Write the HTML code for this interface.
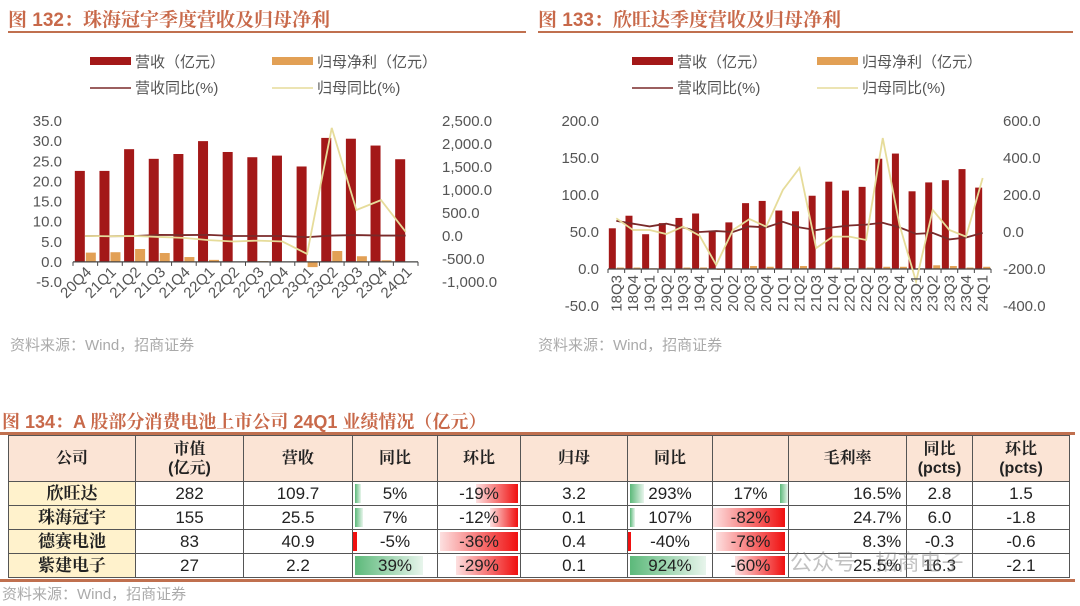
<!DOCTYPE html>
<html><head><meta charset="utf-8"><style>
body{margin:0;width:1080px;height:606px;background:#fff;overflow:hidden;position:relative;font-family:"Liberation Sans","Noto Sans CJK SC",sans-serif;}
.t{position:absolute;font-weight:bold;font-size:19px;color:#c8694a;font-family:"Liberation Sans","Noto Serif CJK SC",sans-serif;white-space:nowrap}
.src{position:absolute;font-size:15px;color:#aaa;white-space:nowrap}
table{position:absolute;left:8px;top:435px;border-collapse:collapse;font-size:17px;color:#222;table-layout:fixed}
td{border:1px solid #555;text-align:center;padding:0;position:relative;height:24px;line-height:18px;box-sizing:border-box;overflow:hidden}
td span{position:relative;z-index:2}
.h td{background:#fbe4d5;height:46px;font-weight:bold;font-family:"Liberation Sans","Noto Serif CJK SC",sans-serif;font-size:16px;line-height:19px}
.c{background:#fff2cc;font-weight:bold;font-family:"Liberation Sans","Noto Serif CJK SC",sans-serif}
.g,.r{position:absolute;top:2px;bottom:2px;z-index:1}
.g{background:linear-gradient(90deg,#5cb97a,#e8f5ec)}
.r{background:linear-gradient(90deg,#fde0e0,#f01010)}
</style></head><body>
<div class="t" style="left:8px;top:5px">图 132：珠海冠宇季度营收及归母净利</div>
<div class="t" style="left:538px;top:5px">图 133：欣旺达季度营收及归母净利</div>
<div style="position:absolute;left:8px;top:31px;width:518px;height:2px;background:#c0704f"></div>
<div style="position:absolute;left:538px;top:31px;width:535px;height:2px;background:#c0704f"></div>
<svg id="s1" width="540" height="330" style="position:absolute;left:0;top:0" font-family="Liberation Sans, Noto Sans CJK SC, sans-serif"></svg>
<svg id="s2" width="540" height="330" style="position:absolute;left:540px;top:0" font-family="Liberation Sans, Noto Sans CJK SC, sans-serif"></svg>
<div class="src" style="left:10px;top:334px">资料来源：Wind，招商证券</div>
<div class="src" style="left:538px;top:334px">资料来源：Wind，招商证券</div>
<div class="t" style="left:2px;top:408px;font-size:18px">图 134：A 股部分消费电池上市公司 24Q1 业绩情况（亿元）</div>
<div style="position:absolute;left:0;top:432px;width:1075px;height:3px;background:#c0704f"></div>
<table>
<colgroup><col style="width:127px"><col style="width:108px"><col style="width:109px"><col style="width:85px"><col style="width:83px"><col style="width:107px"><col style="width:85px"><col style="width:76px"><col style="width:118px"><col style="width:66px"><col style="width:97px"></colgroup>
<tr class="h"><td>公司</td><td>市值<br>(亿元)</td><td>营收</td><td>同比</td><td>环比</td><td>归母</td><td>同比</td><td></td><td>毛利率</td><td>同比<br>(pcts)</td><td>环比<br>(pcts)</td></tr>
<tr><td class="c">欣旺达</td><td>282</td><td>109.7</td><td><i class="g" style="left:2px;width:6px"></i><span>5%</span></td><td><i class="r" style="left:38px;right:2px"></i><span>-19%</span></td><td>3.2</td><td><i class="g" style="left:2px;width:14px"></i><span>293%</span></td><td><i class="g" style="right:0;width:8px"></i><span>17%</span></td><td style="text-align:right"><span>16.5%&nbsp;</span></td><td>2.8</td><td>1.5</td></tr>
<tr><td class="c">珠海冠宇</td><td>155</td><td>25.5</td><td><i class="g" style="left:2px;width:8px"></i><span>7%</span></td><td><i class="r" style="left:52px;right:2px"></i><span>-12%</span></td><td>0.1</td><td><i class="g" style="left:2px;width:5px"></i><span>107%</span></td><td><i class="r" style="left:0;right:3px"></i><span>-82%</span></td><td style="text-align:right"><span>24.7%&nbsp;</span></td><td>6.0</td><td>-1.8</td></tr>
<tr><td class="c">德赛电池</td><td>83</td><td>40.9</td><td><i class="r" style="left:0;width:4px;background:#f01010"></i><span>-5%</span></td><td><i class="r" style="left:2px;right:2px"></i><span>-36%</span></td><td>0.4</td><td><i class="r" style="left:0;width:3px;background:#f01010"></i><span>-40%</span></td><td><i class="r" style="left:3px;right:3px"></i><span>-78%</span></td><td style="text-align:right"><span>8.3%&nbsp;</span></td><td>-0.3</td><td>-0.6</td></tr>
<tr><td class="c">紫建电子</td><td>27</td><td>2.2</td><td><i class="g" style="left:2px;width:68px"></i><span>39%</span></td><td><i class="r" style="left:18px;right:2px"></i><span>-29%</span></td><td>0.1</td><td><i class="g" style="left:2px;width:76px"></i><span>924%</span></td><td><i class="r" style="left:22px;right:3px"></i><span>-60%</span></td><td style="text-align:right"><span>25.5%&nbsp;</span></td><td>16.3</td><td>-2.1</td></tr>
</table>
<div style="position:absolute;left:0;top:579px;width:1075px;height:3px;background:#c0704f"></div>
<div class="src" style="left:2px;top:583px">资料来源：Wind，招商证券</div>
<div style="position:absolute;left:790px;top:545px;font-size:22px;color:rgba(120,120,120,0.45);white-space:nowrap">公众号 · 招商电子</div>
<script>
// chart 132 data
const cats1=["20Q4","21Q1","21Q2","21Q3","21Q4","22Q1","22Q2","22Q3","22Q4","23Q1","23Q2","23Q3","23Q4","24Q1"];
const rev1=[22.6,22.6,28.0,25.6,26.8,30.0,27.3,26.0,26.4,23.7,30.8,30.6,28.9,25.5];
const np1=[2.3,2.4,3.2,2.2,1.2,0.5,0.1,0.2,0.1,-1.3,2.7,1.4,0.4,0.1];
const revYoy1=[0,-5,0,25,20,25,0,0,0,-25,10,20,10,10];
const npYoy1=[0,-5,0,-20,-40,-90,-120,-100,-120,-390,2350,565,780,90];
const lt1=["35.0","30.0","25.0","20.0","15.0","10.0","5.0","0.0","-5.0"];
const rt1=["2,500.0","2,000.0","1,500.0","1,000.0","500.0","0.0","-500.0","-1,000.0"];
// chart 133 data
const cats2=["18Q3","18Q4","19Q1","19Q2","19Q3","19Q4","20Q1","20Q2","20Q3","20Q4","21Q1","21Q2","21Q3","21Q4","22Q1","22Q2","22Q3","22Q4","23Q1","23Q2","23Q3","23Q4","24Q1"];
const rev2=[55,72,47,62,69,75,52,63,89,92,79,78,99,118,106,111,149,156,105,117,120,135,110];
const np2=[2,2,1,1,2,2,-1,1,4,3,1,4,1,2,1,2,3,3,1,5,4,2,3];
const revYoy2=[60,45,30,45,25,0,5,0,30,25,55,25,10,25,35,40,50,25,-10,-5,-40,-30,-5];
const npYoy2=[74,11,11,-11,29,-20,-178,11,70,29,227,346,-87,-25,-25,-43,508,40,-268,119,11,-25,292];
const lt2=["200.0","150.0","100.0","50.0","0.0","-50.0"];
const rt2=["600.0","400.0","200.0","0.0","-200.0","-400.0"];
const NS="http://www.w3.org/2000/svg";
function mk(p,tag,a){const e=document.createElementNS(NS,tag);for(const k in a)e.setAttribute(k,a[k]);p.appendChild(e);return e;}
function txt(p,x,y,s,anchor,extra){const t=mk(p,"text",Object.assign({x:x,y:y,"font-size":15,fill:"#555","text-anchor":anchor},extra||{}));t.textContent=s;return t;}
function draw(svg,o){
  const yL=v=>o.top+(o.lmax-v)/(o.lmax-o.lmin)*(o.bot-o.top);
  const yR=v=>o.top+(o.rmax-v)/(o.rmax-o.rmin)*(o.bot-o.top);
  const n=o.cats.length,w=(o.x1-o.x0)/n,cx=i=>o.x0+w*(i+0.5);
  let r=mk(svg,"rect",{x:o.lg[0],y:57,width:41,height:8,fill:"#a31818"});
  txt(svg,o.lg[0]+45,67,"营收（亿元）","start",{"font-size":15});
  r=mk(svg,"rect",{x:o.lg[1],y:57,width:41,height:8,fill:"#e2a055"});
  txt(svg,o.lg[1]+45,67,"归母净利（亿元）","start",{"font-size":15});
  r=mk(svg,"line",{x1:o.lg[0],x2:o.lg[0]+41,y1:88,y2:88,stroke:"#7a2a2a","stroke-width":1.5});
  txt(svg,o.lg[0]+45,93,"营收同比(%)","start",{"font-size":15});
  r=mk(svg,"line",{x1:o.lg[1],x2:o.lg[1]+41,y1:88,y2:88,stroke:"#e6dc9a","stroke-width":1.5});
  txt(svg,o.lg[1]+45,93,"归母同比(%)","start",{"font-size":15});
  o.lt.forEach(s=>{const v=parseFloat(s.replace(/,/g,''));const t=txt(svg,o.lx,yL(v)+5,s,"end");});
  o.rt.forEach(s=>{const v=parseFloat(s.replace(/,/g,''));const t=txt(svg,o.rx,yR(v)+5,s,"start");});
  const bw=o.bw;
  o.rev.forEach((v,i)=>{const b=mk(svg,"rect",{x:cx(i)-bw-0.5,y:Math.min(yL(v),yL(0)),width:bw,height:Math.abs(yL(v)-yL(0)),fill:"#a31818"});});
  o.np.forEach((v,i)=>{const b=mk(svg,"rect",{x:cx(i)+0.5,y:Math.min(yL(v),yL(0)),width:bw,height:Math.max(1,Math.abs(yL(v)-yL(0))),fill:"#e2a055"});});
  const ax=mk(svg,"line",{x1:o.x0,x2:o.x1,y1:yL(0),y2:yL(0),stroke:"#444","stroke-width":1.2});
  for(let i=0;i<=n;i++)mk(svg,"line",{x1:o.x0+w*i,x2:o.x0+w*i,y1:yL(0),y2:yL(0)+4,stroke:"#444"});
  let l=mk(svg,"polyline",{points:o.ry.map((v,i)=>cx(i)+","+yR(v)).join(" "),fill:"none",stroke:"#7a2a2a","stroke-width":1.8});
  l=mk(svg,"polyline",{points:o.ny.map((v,i)=>cx(i)+","+yR(v)).join(" "),fill:"none",stroke:"#e6dc9a","stroke-width":1.8});
  o.cats.forEach((c,i)=>{const x=cx(i)+o.lo,y=o.ly;const t=txt(svg,x,y,c,"end",{transform:`rotate(${o.rot} ${x} ${y})`,"font-size":o.fs});});
}
draw(document.getElementById('s1'),{cats:cats1,rev:rev1,np:np1,ry:revYoy1,ny:npYoy1,lt:lt1,rt:rt1,top:121,bot:282,lmax:35,lmin:-5,rmax:2500,rmin:-1000,x0:73,x1:418,lx:62,rx:442,bw:10,lg:[90,272],rot:-45,ly:273,lo:7,fs:15});
draw(document.getElementById('s2'),{cats:cats2,rev:rev2,np:np2,ry:revYoy2,ny:npYoy2,lt:lt2,rt:rt2,top:121,bot:306,lmax:200,lmin:-50,rmax:600,rmin:-400,x0:68,x1:451,lx:59,rx:463,bw:7,lg:[92,277],rot:-90,ly:275,lo:5,fs:15});
</script>
</body></html>
